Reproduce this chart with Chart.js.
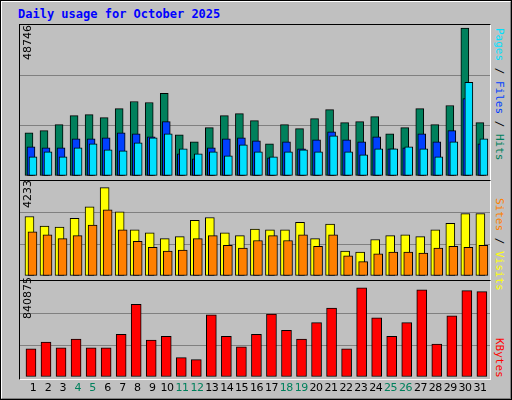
<!DOCTYPE html>
<html><head><meta charset="utf-8">
<script src="https://cdn.jsdelivr.net/npm/chart.js@4"></script>
<style>
body{margin:0;background:#fff;}
#wrap{position:absolute;left:0;top:0;width:508px;height:396px;background:#c0c0c0;border-top:2px solid #fff;border-left:2px solid #fff;border-right:2px solid #808080;border-bottom:2px solid #808080;outline:1px solid #000;outline-offset:-1px;}
.panel{position:absolute;left:19px;width:470px;border-left:1px solid #000;border-top:1px solid #000;border-right:1px solid #fff;border-bottom:1px solid #fff;box-sizing:content-box}
.panel canvas{display:block}
#title{position:absolute;left:18px;top:7px;font:bold 12px "DejaVu Sans Mono",monospace;color:#0000ff;}
.vl{position:absolute;font:11px "DejaVu Sans",sans-serif;white-space:nowrap;transform-origin:0 0;}
.vr{position:absolute;font:11px "DejaVu Sans Mono",monospace;white-space:nowrap;transform-origin:0 0;transform:rotate(90deg);}
.xl{position:absolute;top:381px;font:11px "DejaVu Sans",sans-serif;width:20px;text-align:center;letter-spacing:-0.5px}
</style></head><body>
<div id="wrap"></div>
<div id="title">Daily usage for October 2025</div>
<div class="panel" id="p1" style="top:24px;height:155px"><canvas id="c1"></canvas></div>
<div class="panel" id="p2" style="top:180px;height:99px"><canvas id="c2"></canvas></div>
<div class="panel" id="p3" style="top:280px;height:98px"><canvas id="c3"></canvas></div>
<div class="vl" style="left:21px;top:60px;transform:rotate(-90deg)">48746</div>
<div class="vl" style="left:21px;top:208px;transform:rotate(-90deg)">4233</div>
<div class="vl" style="left:21px;top:319px;transform:rotate(-90deg)">840875</div>
<div class="vr" style="left:506px;top:28px"><span style="color:#00e0ff">Pages</span> / <span style="color:#0040ff">Files</span> / <span style="color:#00805c">Hits</span></div>
<div class="vr" style="left:506px;top:198px"><span style="color:#ff8000">Sites</span> / <span style="color:#ffff00">Visits</span></div>
<div class="vr" style="left:506px;top:338px"><span style="color:#ff0000">KBytes</span></div>
<div id="xlabels"></div>
<script>
const days=[1,2,3,4,5,6,7,8,9,10,11,12,13,14,15,16,17,18,19,20,21,22,23,24,25,26,27,28,29,30,31];
const weekend=[4,5,11,12,18,19,25,26];
const hits=[14259,14922,16912,19896,20228,19233,22217,24538,24207,27191,13596,11274,15917,19896,20559,18238,10611,16912,15585,18901,21886,17575,17906,19564,13927,15917,22217,16912,23212,48746,17575];
const files=[9616,9285,9285,12269,12269,12601,14259,13927,12932,17906,7295,5637,9285,12269,12601,11606,5969,11274,8953,11938,14590,11938,11274,12932,8953,9285,13927,11274,14922,25533,10611];
const pages=[6300,7958,6300,9285,10611,8622,8290,10943,12601,13927,8953,7295,7958,6632,10280,7958,6300,7958,8622,7958,13264,7958,6964,8953,8953,9616,8953,6300,11274,30839,12269];
const visits=[2852,2392,2346,2760,3312,4233,3082,2208,2070,1794,1886,2668,2806,2070,1932,2254,2208,2208,2576,1794,2484,1196,1150,1748,1932,1978,1886,2208,2530,2990,2990];
const sites=[2116,1978,1794,1932,2438,3174,2208,1656,1380,1196,1242,1794,1932,1472,1334,1702,1932,1702,1978,1426,1978,966,690,1058,1150,1150,1104,1334,1426,1380,1472];
const kbytes=[265060,329040,274200,356460,274200,274200,402160,685500,347320,383880,182800,164520,584960,383880,283340,402160,594100,438720,356460,511840,648940,265060,840875,557540,383880,511840,822600,310760,575820,813460,804320];

const XMIN=0.27, XMAX=31.54;
function ds(vals,off,color,w,order){
  return {data:vals.map((v,i)=>({x:days[i]+off,y:v})),backgroundColor:color,borderColor:'#000',borderWidth:1,borderSkipped:false,barThickness:w,order:order,grouped:false};
}
function make(id,datasets,max,pad){
  new Chart(document.getElementById(id),{type:'bar',data:{datasets},
    options:{responsive:true,maintainAspectRatio:false,animation:false,
      layout:{padding:{bottom:pad,top:0,left:0,right:0}},
      plugins:{legend:{display:false},tooltip:{enabled:false}},
      scales:{
        x:{type:'linear',min:XMIN,max:XMAX,offset:false,display:false},
        y:{min:0,max:max,display:true,ticks:{display:false,stepSize:max/3,count:4},
           grid:{color:c=>(c.index===1||c.index===2)?'#808080':'rgba(0,0,0,0)',drawTicks:false,lineWidth:1},
           border:{display:false}}
      }}});
}
make('c1',[ds(hits,-0.133,'#00805c',8,2),ds(files,0,'#0040ff',8,1),ds(pages,0.133,'#00e0ff',8,0)],49740,4);
make('c2',[ds(visits,-0.1,'#ffff00',9,1),ds(sites,0.1,'#ff8000',9,0)],4554,4);
make('c3',[ds(kbytes,0,'#ff0000',10,0)],904860,2);

const xl=document.getElementById('xlabels');
days.forEach(d=>{const s=document.createElement('div');s.className='xl';s.textContent=d;
  s.style.left=(33+(d-1)*14.9-10)+'px';s.style.color=weekend.includes(d)?'#00805c':'#000';xl.appendChild(s);});
</script>
</body></html>
